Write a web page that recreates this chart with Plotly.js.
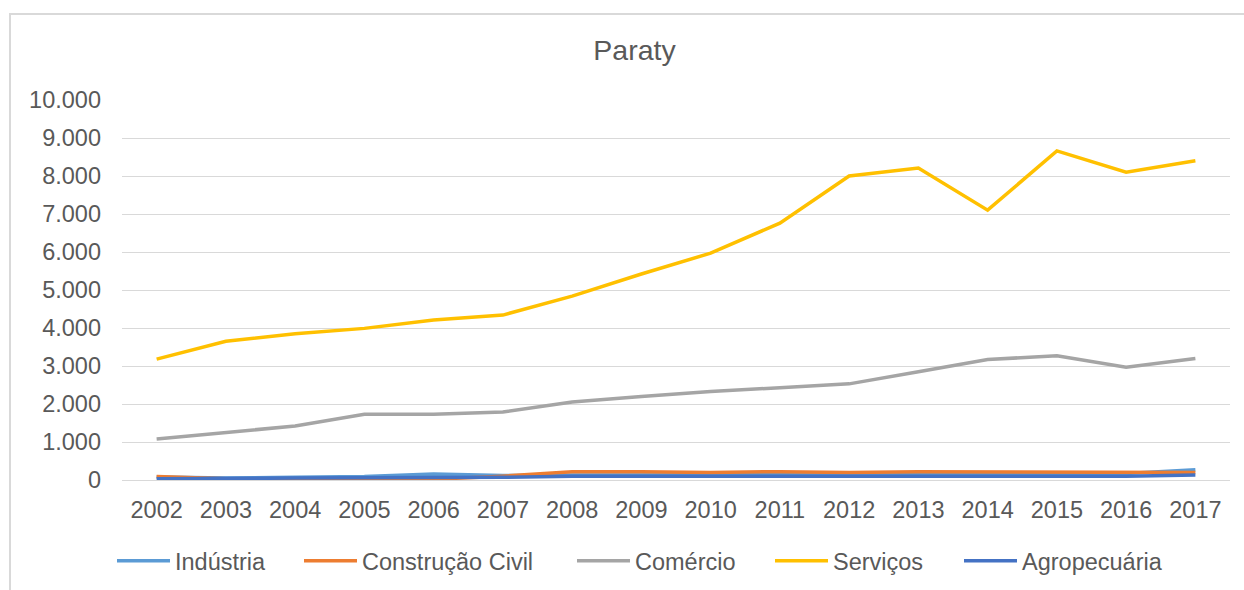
<!DOCTYPE html>
<html>
<head>
<meta charset="utf-8">
<script src="https://cdn.plot.ly/plotly-3.0.1.min.js"></script>
<style>
html,body{margin:0;padding:0;background:#fff;}
#wrap{position:relative;width:1244px;height:590px;}
#chart{width:1244px;height:590px;}
#frame{position:absolute;left:9px;top:13px;width:1240px;height:590px;border-left:2px solid #d9d9d9;border-top:2px solid #d9d9d9;pointer-events:none;}
</style>
</head>
<body>
<div id="wrap"><div id="chart"></div><div id="frame"></div></div>
<script>
const years = ['2002','2003','2004','2005','2006','2007','2008','2009','2010','2011','2012','2013','2014','2015','2016','2017'];
const industria = [80, 50, 70, 90, 160, 120, 130, 140, 130, 140, 130, 140, 150, 140, 170, 270];
const construcao = [90, 30, 20, 30, 20, 100, 220, 220, 200, 220, 200, 220, 220, 210, 200, 200];
const comercio = [1080, 1250, 1420, 1730, 1730, 1790, 2050, 2200, 2330, 2430, 2530, 2850, 3170, 3270, 2970, 3200];
const servicos = [3180, 3650, 3850, 3990, 4210, 4340, 4840, 5420, 5970, 6760, 8000, 8210, 7100, 8660, 8100, 8400];
const agropecuaria = [30, 30, 50, 60, 60, 70, 100, 100, 100, 100, 100, 100, 100, 100, 100, 130];
const seriesNames = ['Indústria','Construção Civil','Comércio','Serviços','Agropecuária'];
const seriesColors = ['#5B9BD5','#ED7D31','#A5A5A5','#FFC000','#4472C4'];
const seriesData = [industria, construcao, comercio, servicos, agropecuaria];
const legendX = [122, 309, 582, 780, 969];

const legendKeys = ['legend','legend2','legend3','legend4','legend5'];
const traces = seriesData.map((vals, i) => ({
  type: 'scatter', mode: 'lines', x: years, y: vals, name: seriesNames[i],
  line: {color: seriesColors[i], width: 3.5},
  legend: legendKeys[i]
}));

const L = 122, R = 1230, W = R - L;
const FS = 23.5;
const layout = {
  width: 1244, height: 590,
  margin: {l: 122, r: 14, t: 100, b: 110, autoexpand: false},
  paper_bgcolor: '#fff', plot_bgcolor: '#fff',
  separators: ',.',
  font: {family: 'Liberation Sans, Arial, sans-serif', color: '#595959', size: FS},
  title: {text: 'Paraty', x: 634.5/1244, xref: 'container', xanchor: 'center', y: 1 - 50/590, yref: 'container', yanchor: 'middle', font: {size: 28.5, color: '#595959'}},
  xaxis: {type: 'category', range: [-0.5, 15.5], automargin: false, showgrid: false, showline: false, zeroline: false, ticks: '', tickfont: {size: FS, color: '#595959'}, ticklabelstandoff: 13},
  yaxis: {range: [0, 10000], dtick: 1000, tickformat: ',d', automargin: false, gridcolor: '#d9d9d9', gridwidth: 1, zeroline: true, zerolinecolor: '#d9d9d9', zerolinewidth: 1, showline: false, ticks: '', tickfont: {size: FS, color: '#595959'}, ticklabelstandoff: 20},
  showlegend: true
};
legendKeys.forEach((k, i) => {
  layout[k] = {
    orientation: 'h', x: (legendX[i] - L - 10) / W, xanchor: 'left', y: (480 - 561) / 380, yanchor: 'middle',
    bgcolor: 'rgba(0,0,0,0)', borderwidth: 0, font: {size: FS, color: '#595959'}, itemwidth: 53
  };
});
Plotly.newPlot('chart', traces, layout, {staticPlot: true});
</script>
</body>
</html>
